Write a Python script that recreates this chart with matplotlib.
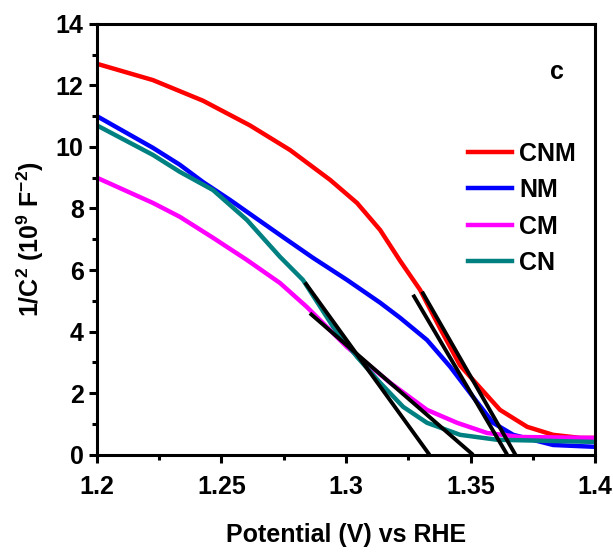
import numpy as np
import matplotlib
matplotlib.use('Agg')
import matplotlib.pyplot as plt
from matplotlib.ticker import MultipleLocator

plt.rcParams['font.family'] = ['Liberation Sans', 'DejaVu Sans']
plt.rcParams['font.weight'] = 'bold'
plt.rcParams['mathtext.fontset'] = 'custom'
plt.rcParams['mathtext.rm'] = 'Liberation Sans:bold'
plt.rcParams['mathtext.it'] = 'Liberation Sans:bold'
plt.rcParams['mathtext.bf'] = 'Liberation Sans:bold'

# data
cnm_x = [1.2, 1.2225, 1.2426, 1.2614, 1.2775, 1.2936, 1.3044, 1.3137, 1.3217, 1.3297,
         1.3378, 1.3458, 1.351, 1.3618, 1.3727, 1.3831, 1.394, 1.4]
cnm_y = [12.7, 12.17, 11.5, 10.7, 9.9, 8.93, 8.18, 7.3, 6.3, 5.36,
         4.1, 2.9, 2.43, 1.46, 0.91, 0.65, 0.55, 0.55]

nm_x = [1.2, 1.2225, 1.2333, 1.2426, 1.2534, 1.2735, 1.2867, 1.3004, 1.3137, 1.3217,
        1.3325, 1.3418, 1.351, 1.359, 1.3671, 1.3831, 1.4]
nm_y = [11.0, 9.97, 9.42, 8.86, 8.28, 7.14, 6.4, 5.68, 4.94, 4.45,
        3.73, 2.86, 1.88, 1.04, 0.65, 0.32, 0.26]

cm_x = [1.2, 1.2225, 1.2333, 1.2466, 1.2602, 1.2735, 1.2843, 1.3004, 1.3177, 1.3325,
        1.3446, 1.3566, 1.3699, 1.4]
cm_y = [9.0, 8.18, 7.73, 7.05, 6.33, 5.58, 4.8, 3.5, 2.34, 1.46,
        1.04, 0.71, 0.58, 0.55]

cn_x = [1.2, 1.2225, 1.2333, 1.2466, 1.2602, 1.2735, 1.2827, 1.2948, 1.3044, 1.3137,
        1.3229, 1.3325, 1.3458, 1.3606, 1.4]
cn_y = [10.7, 9.74, 9.19, 8.6, 7.63, 6.43, 5.68, 4.16, 3.18, 2.34,
        1.56, 1.04, 0.65, 0.49, 0.42]

# tangent (Mott-Schottky) lines: start point and x-intercept
tan_start_x = [1.2835, 1.2855, 1.3269, 1.3305]
tan_start_y = [5.6, 4.6, 5.2, 5.3]
tan_end_x = [1.3335, 1.351, 1.3647, 1.368]
tan_end_y = [0.0, 0.0, 0.0, 0.0]

labels = ['CNM', 'NM', 'CM', 'CN']
colors = ['#ff0000', '#0000ff', '#ff00ff', '#008080']

fig = plt.figure(figsize=(6.13, 5.52), dpi=100)
ax = fig.add_axes([0.158, 0.176, 0.813, 0.781])

lw = 3.2
ax.plot(cnm_x, cnm_y, color=colors[0], lw=lw, label=labels[0])
ax.plot(nm_x, nm_y, color=colors[1], lw=lw, label=labels[1])
ax.plot(cm_x, cm_y, color=colors[2], lw=lw, label=labels[2])
ax.plot(cn_x, cn_y, color=colors[3], lw=lw, label=labels[3])

for x0, y0, x1, y1 in zip(tan_start_x, tan_start_y, tan_end_x, tan_end_y):
    ax.plot([x0, x1], [y0, y1], color='black', lw=2.8, solid_capstyle='butt', zorder=5)

ax.set_xlim(1.2, 1.4)
ax.set_ylim(0, 14)
ax.xaxis.set_minor_locator(MultipleLocator(0.025))
ax.yaxis.set_major_locator(MultipleLocator(2))
ax.yaxis.set_minor_locator(MultipleLocator(1))
ax.set_xticks([1.2, 1.25, 1.3, 1.35, 1.4])
ax.set_xticklabels(['1.2', '1.25', '1.3', '1.35', '1.4'])

for s in ax.spines.values():
    s.set_linewidth(2.2)
ax.tick_params(which='major', length=6, width=2.2, labelsize=18, direction='out')
ax.tick_params(axis='x', which='major', pad=8.5)
ax.tick_params(which='minor', length=3.5, width=2.2, direction='out')
for t in ax.get_xticklabels() + ax.get_yticklabels():
    t.set_fontweight('bold')

ax.set_xlabel('Potential (V) vs RHE', fontsize=18, fontweight='bold', labelpad=17)
ax.set_ylabel(r'1/C$^{2}$ (10$^{9}$ F$^{-2}$)', fontsize=18, fontweight='bold', labelpad=7)

ax.text(0.924, 0.889, 'c', transform=ax.transAxes, fontsize=18, fontweight='bold',
        ha='center', va='center')

leg = ax.legend(loc='upper left', bbox_to_anchor=(0.725, 0.75), frameon=False,
                fontsize=18, handlelength=1.75, handletextpad=0.3, labelspacing=0.5,
                borderaxespad=0.0)
for line in leg.get_lines():
    line.set_linewidth(3.2)
for t in leg.get_texts():
    t.set_fontweight('bold')

fig.savefig('out.png', dpi=100)
